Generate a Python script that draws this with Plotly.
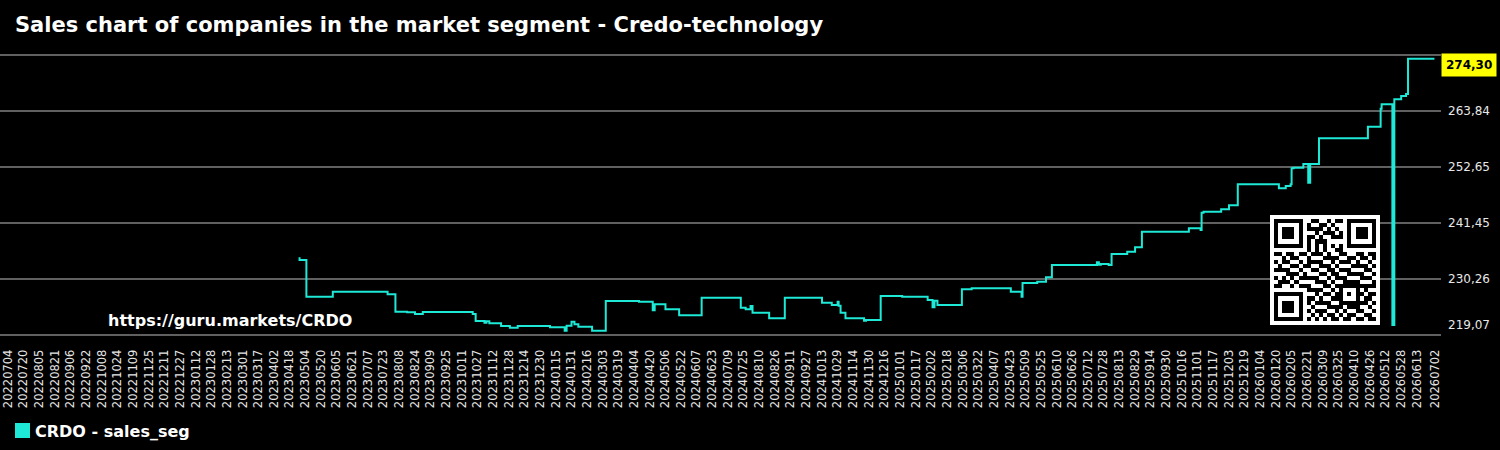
import plotly.graph_objects as go

# ---------------- data ----------------
TITLE = "Sales chart of companies in the market segment - Credo-technology"
SERIES_NAME = "CRDO - sales_seg"
WATERMARK = "https://guru.markets/CRDO"

DATES = [
    "2023-04-27", "2023-04-28", "2023-05-05", "2023-06-01", "2023-07-27", "2023-08-04",
    "2023-08-16", "2023-08-24", "2023-09-01", "2023-10-22", "2023-10-25", "2023-11-03",
    "2023-11-05", "2023-11-08", "2023-11-20", "2023-11-29", "2023-12-07", "2024-01-09",
    "2024-01-24", "2024-01-26", "2024-01-31", "2024-02-03", "2024-02-07", "2024-02-21",
    "2024-03-06", "2024-04-09", "2024-04-23", "2024-04-25", "2024-05-06", "2024-05-20",
    "2024-06-12", "2024-07-22", "2024-07-27", "2024-08-01", "2024-08-03", "2024-08-20",
    "2024-09-05", "2024-10-13", "2024-10-23", "2024-10-29", "2024-10-30", "2024-11-01",
    "2024-11-06", "2024-11-25", "2024-11-27", "2024-12-12", "2025-01-03", "2025-01-29",
    "2025-02-03", "2025-02-05", "2025-02-08", "2025-03-05", "2025-03-15", "2025-04-24",
    "2025-05-05", "2025-05-06", "2025-05-21", "2025-05-30", "2025-06-05", "2025-07-21",
    "2025-07-23", "2025-07-25", "2025-08-02", "2025-08-05", "2025-08-21", "2025-08-29",
    "2025-09-05", "2025-10-23", "2025-11-04", "2025-11-05", "2025-11-07", "2025-11-25",
    "2025-12-03", "2025-12-12", "2026-01-23", "2026-01-30", "2026-02-04", "2026-02-05",
    "2026-02-07", "2026-02-17", "2026-02-22", "2026-02-24", "2026-03-05", "2026-04-24",
    "2026-05-07", "2026-05-08", "2026-05-19", "2026-05-21", "2026-05-28", "2026-06-02",
    "2026-06-04", "2026-07-01",
]
VALUES = [
    234.40, 234.06, 226.72, 227.72, 227.20, 223.73,
    223.60, 223.27, 223.67, 223.27, 221.87, 221.53,
    221.80, 221.40, 220.87, 220.54, 220.87, 220.60,
    219.94, 220.90, 221.73, 221.20, 220.73, 219.94,
    225.86, 225.73, 224.00, 225.20, 224.20, 223.00,
    226.52, 224.53, 224.20, 224.87, 223.53, 222.40,
    226.52, 225.53, 225.06, 225.73, 224.90, 223.53,
    222.40, 221.93, 222.07, 226.86, 226.72, 226.06,
    224.60, 225.93, 225.06, 228.20, 228.40, 227.72,
    226.72, 229.45, 229.72, 230.60, 233.06, 233.60,
    233.10, 233.26, 233.06, 235.26, 235.72, 236.60,
    239.72, 240.39, 240.05, 243.51, 243.71, 244.18,
    244.98, 249.18, 248.38, 248.85, 249.18, 252.38,
    252.51, 253.24, 249.50, 253.24, 258.38, 260.70,
    264.30, 265.20, 221.07, 266.17, 266.83, 267.24,
    274.30, 274.30,
]

Y_GRID = [219.07, 230.26, 241.45, 252.65, 263.84, 275.03]
Y_LABELS = ["219,07", "230,26", "241,45", "252,65", "263,84", ""]
LAST_LABEL = "274,30"

X_TICKS = """
20220704 20220720 20220805 20220821 20220906 20220922 20221008 20221024 20221109 20221125
20221211 20221227 20230112 20230128 20230213 20230301 20230317 20230402 20230418 20230504
20230520 20230605 20230621 20230707 20230723 20230808 20230824 20230909 20230925 20231011
20231027 20231112 20231128 20231214 20231230 20240115 20240131 20240216 20240303 20240319
20240404 20240420 20240506 20240522 20240607 20240623 20240709 20240725 20240810 20240826
20240911 20240927 20241013 20241029 20241114 20241130 20241216 20250101 20250117 20250202
20250218 20250306 20250322 20250407 20250423 20250509 20250525 20250610 20250626 20250712
20250728 20250813 20250829 20250914 20250930 20251016 20251101 20251117 20251203 20251219
20260104 20260120 20260205 20260221 20260309 20260325 20260410 20260426 20260512 20260528
20260613 20260702
""".split()

QR_DATA = [
    "11010 01101 10010 11100 10110",
    "01101 11010 01101 00111 01001",
    "10110 00111 11010 10011 11010",
    "01011 10100 10111 01101 00101",
    "11100 01011 01001 11010 10011",
    "00111 10110 11100 00101 11100",
    "10010 11001 01011 10110 01011",
    "01101 00110 10100 11011 10100",
    "11011 01101 11010 01100 11011",
    "00101 11010 00111 10011 01101",
    "10110 01011 11001 01110 10010",
    "01001 10110 01110 10001 11101",
    "11110 01001 10011 01110 00110",
    "00011 11100 01101 10011 11001",
    "10101 00111 10010 11100 01110",
    "01110 11000 11101 00111 10001",
    "11001 01110 00110 11010 01111",
    "00110 10011 11001 01101 10100",
    "10011 01100 10110 10010 01011",
    "01100 11011 01001 11101 10110",
    "11011 00110 11110 00010 01101",
    "00100 11101 00011 11011 10010",
    "10111 01010 11100 10100 11001",
    "01010 10101 01011 01011 00110",
    "11101 01110 10101 10110 11011",
]

# ---------------- layout geometry (pixels) ----------------
W, H = 1500, 450
PLOT_L, PLOT_R, PLOT_T, PLOT_B = 0, 1441, 50, 340
GRID_TOP_PX, GRID_BOTTOM_PX = 55, 335
FONT = "DejaVu Sans"
LINE_COLOR = "#1de9d6"


def px(x):
    return (x - PLOT_L) / (PLOT_R - PLOT_L)


def py(y):
    return (PLOT_B - y) / (PLOT_B - PLOT_T)


# y range so that the lowest / highest grid values land on the pixel rows
_upp = (max(Y_GRID) - min(Y_GRID)) / (GRID_BOTTOM_PX - GRID_TOP_PX)
Y_RANGE = [min(Y_GRID) - (PLOT_B - GRID_BOTTOM_PX) * _upp,
           max(Y_GRID) + (GRID_TOP_PX - PLOT_T) * _upp]

# ---------------- QR matrix ----------------
N = 25
qr = [[int(c) for c in row.replace(" ", "")][:N] for row in QR_DATA]


def put_finder(r0, c0):
    for r in range(-1, 8):
        for c in range(-1, 8):
            rr, cc = r0 + r, c0 + c
            if 0 <= rr < N and 0 <= cc < N:
                if 0 <= r <= 6 and 0 <= c <= 6:
                    ring = max(abs(r - 3), abs(c - 3))
                    qr[rr][cc] = 1 if ring in (3, 0, 1) else 0
                else:
                    qr[rr][cc] = 0


put_finder(0, 0)
put_finder(0, N - 7)
put_finder(N - 7, 0)
for i in range(8, N - 8):
    qr[6][i] = 1 if i % 2 == 0 else 0
    qr[i][6] = 1 if i % 2 == 0 else 0
for r in range(16, 21):
    for c in range(16, 21):
        ring = max(abs(r - 18), abs(c - 18))
        qr[r][c] = 1 if ring in (2, 0) else 0
qr[N - 8][8] = 1
z_qr = [[0] * (N + 2)] + [[0] + row + [0] for row in qr] + [[0] * (N + 2)]

# ---------------- figure ----------------
fig = go.Figure()
fig.add_trace(go.Scatter(
    x=DATES, y=VALUES, mode="lines", name=SERIES_NAME,
    line=dict(color=LINE_COLOR, width=2, shape="hv"),
    showlegend=False, xaxis="x", yaxis="y",
))
fig.add_trace(go.Heatmap(
    z=z_qr, colorscale=[[0, "#ffffff"], [1, "#000000"]], showscale=False,
    zmin=0, zmax=1, xaxis="x2", yaxis="y2", hoverinfo="skip", xgap=0, ygap=0,
))

tickvals = [f"{t[:4]}-{t[4:6]}-{t[6:]}" for t in X_TICKS]

annotations = []
for v, lab in zip(Y_GRID, Y_LABELS):
    if not lab:
        continue
    annotations.append(dict(
        x=1, xref="paper", y=v, yref="y", text=lab, showarrow=False,
        xanchor="left", yanchor="middle", xshift=5,
        yshift=10 if v == min(Y_GRID) else 0,
        font=dict(family=FONT, size=12, color="#e8e8e8"),
    ))
annotations.append(dict(
    x=1, xref="paper", y=VALUES[-1], yref="y", text=f"<b>{LAST_LABEL}</b>",
    showarrow=False, xanchor="left", yanchor="middle", xshift=0, yshift=-6,
    bgcolor="#ffff00", borderpad=4,
    font=dict(family=FONT, size=12, color="#000000"),
))
annotations.append(dict(
    x=px(106), xref="paper", y=py(320), yref="paper", text=f"<b>{WATERMARK}</b>",
    showarrow=False, xanchor="left", yanchor="middle",
    font=dict(family=FONT, size=16, color="#ffffff"),
))
annotations.append(dict(
    x=px(33), xref="paper", y=py(431), yref="paper", text=f"<b>{SERIES_NAME}</b>",
    showarrow=False, xanchor="left", yanchor="middle",
    font=dict(family=FONT, size=16, color="#ffffff"),
))

shapes = [dict(
    type="rect", xref="paper", yref="paper",
    x0=px(15), x1=px(30), y0=py(438), y1=py(423),
    fillcolor=LINE_COLOR, line=dict(width=0),
)]

fig.update_layout(
    width=W, height=H,
    margin=dict(l=PLOT_L, r=W - PLOT_R, t=PLOT_T, b=H - PLOT_B),
    paper_bgcolor="#000000", plot_bgcolor="#000000",
    title=dict(text=f"<b>{TITLE}</b>", x=15 / W, xanchor="left", xref="container",
               y=1 - 25 / H, yanchor="middle", yref="container",
               font=dict(family=FONT, size=21, color="#ffffff")),
    font=dict(family=FONT, color="#e6e6e6"),
    showlegend=False,
    xaxis=dict(
        type="date", range=["2022-06-25 20:00", "2026-07-07 17:00"],
        tickvals=tickvals, ticktext=X_TICKS, tickangle=-90,
        tickfont=dict(family=FONT, size=11.5, color="#e6e6e6"),
        showgrid=False, zeroline=False, showline=False,
        ticks="outside", ticklen=4, tickcolor="#000000",
    ),
    yaxis=dict(
        range=Y_RANGE, tickvals=Y_GRID, showticklabels=False,
        showgrid=True, gridcolor="#606060", gridwidth=1.5,
        zeroline=False, showline=False, ticks="",
    ),
    xaxis2=dict(domain=[px(1270), px(1380)], range=[-0.5, N + 1.5], visible=False,
                anchor="y2", fixedrange=True),
    yaxis2=dict(domain=[py(325), py(215)], range=[N + 1.5, -0.5], visible=False,
                anchor="x2", fixedrange=True),
    annotations=annotations,
    shapes=shapes,
)

fig.write_html("out.html")
